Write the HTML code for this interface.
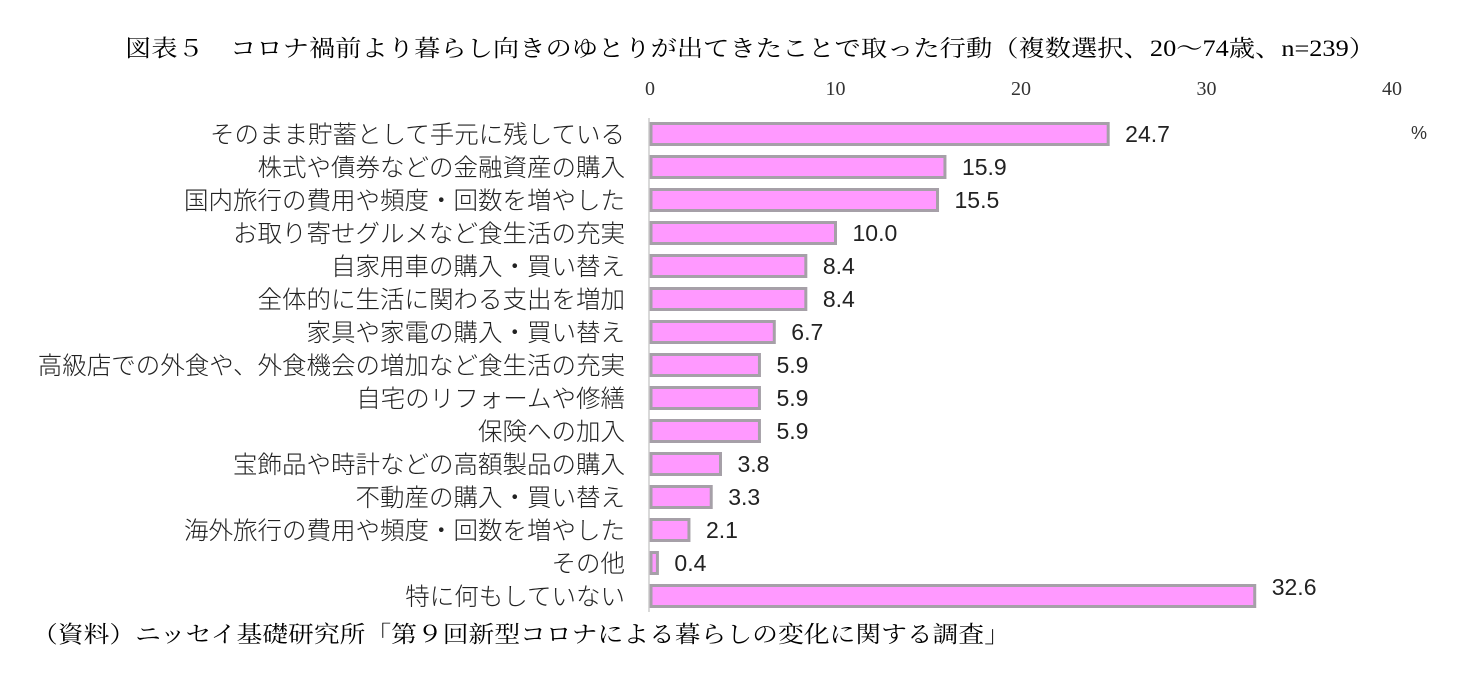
<!DOCTYPE html>
<html><head><meta charset="utf-8"><style>
html,body{margin:0;padding:0;background:#fff;}
svg{display:block;}
</style></head><body>
<svg id="chart" width="1461" height="686" xmlns="http://www.w3.org/2000/svg">
<text x="125" y="56" font-family="'Liberation Serif','Noto Serif CJK SC',serif" font-size="23" textLength="1250" lengthAdjust="spacingAndGlyphs" fill="#000">図表５　コロナ禍前より暮らし向きのゆとりが出てきたことで取った行動（複数選択、20～74歳、n=239）</text>
<text x="1411" y="139" font-family="'Liberation Sans',sans-serif" font-size="18" fill="#333">%</text>
<text x="32" y="642" font-family="'Liberation Serif','Noto Serif CJK SC',serif" font-size="23" textLength="978" lengthAdjust="spacingAndGlyphs" fill="#000">（資料）ニッセイ基礎研究所「第９回新型コロナによる暮らしの変化に関する調査」</text>
<g id="plot"></g>
</svg>
<script>
const categories=["そのまま貯蓄として手元に残している","株式や債券などの金融資産の購入","国内旅行の費用や頻度・回数を増やした","お取り寄せグルメなど食生活の充実","自家用車の購入・買い替え","全体的に生活に関わる支出を増加","家具や家電の購入・買い替え","高級店での外食や、外食機会の増加など食生活の充実","自宅のリフォームや修繕","保険への加入","宝飾品や時計などの高額製品の購入","不動産の購入・買い替え","海外旅行の費用や頻度・回数を増やした","その他","特に何もしていない"];
const values=[24.7,15.9,15.5,10.0,8.4,8.4,6.7,5.9,5.9,5.9,3.8,3.3,2.1,0.4,32.6];
const ticks=[0,10,20,30,40];
const NS="http://www.w3.org/2000/svg";
const g=document.getElementById('plot');
const x0=650,x1=1392,xmax=40;
const xs=v=>x0+(v/xmax)*(x1-x0);
const rowY=i=>134+i*33;
function mk(t,a){const e=document.createElementNS(NS,t);for(const k in a)e.setAttribute(k,a[k]);g.appendChild(e);return e;}
ticks.forEach(t=>{
 const e=mk('text',{x:xs(t),y:95,'text-anchor':'middle','font-family':"'Liberation Serif',serif",'font-size':20,fill:'#333'});
 e.textContent=t;
 
 
});
const ax=mk('line',{x1:649,x2:649,y1:118,y2:612,stroke:'#d9d9d9','stroke-width':2});


categories.forEach((c,i)=>{
 const y=rowY(i);
 const lb=mk('text',{x:625,y:y+9,'text-anchor':'end','font-family':"'Liberation Sans','Noto Sans CJK JP',sans-serif",'font-size':24.5,'font-weight':300,fill:'#222'});
 lb.textContent=c;
 
 
 const v=values[i];
 const r=mk('rect',{x:x0+1,y:y-10.5,width:Math.max(xs(v)-x0-1,1),height:21,fill:'#ff99ff',stroke:'#a6a0a8','stroke-width':3});
 
 
 const last=(i===categories.length-1);
 const vl=mk('text',{x:xs(v)+17,y:last?y-1:y+8,'font-family':"'Liberation Sans',sans-serif",'font-size':23,fill:'#222'});
 vl.textContent=v.toFixed(1);
 
 
});
</script>
</body></html>
